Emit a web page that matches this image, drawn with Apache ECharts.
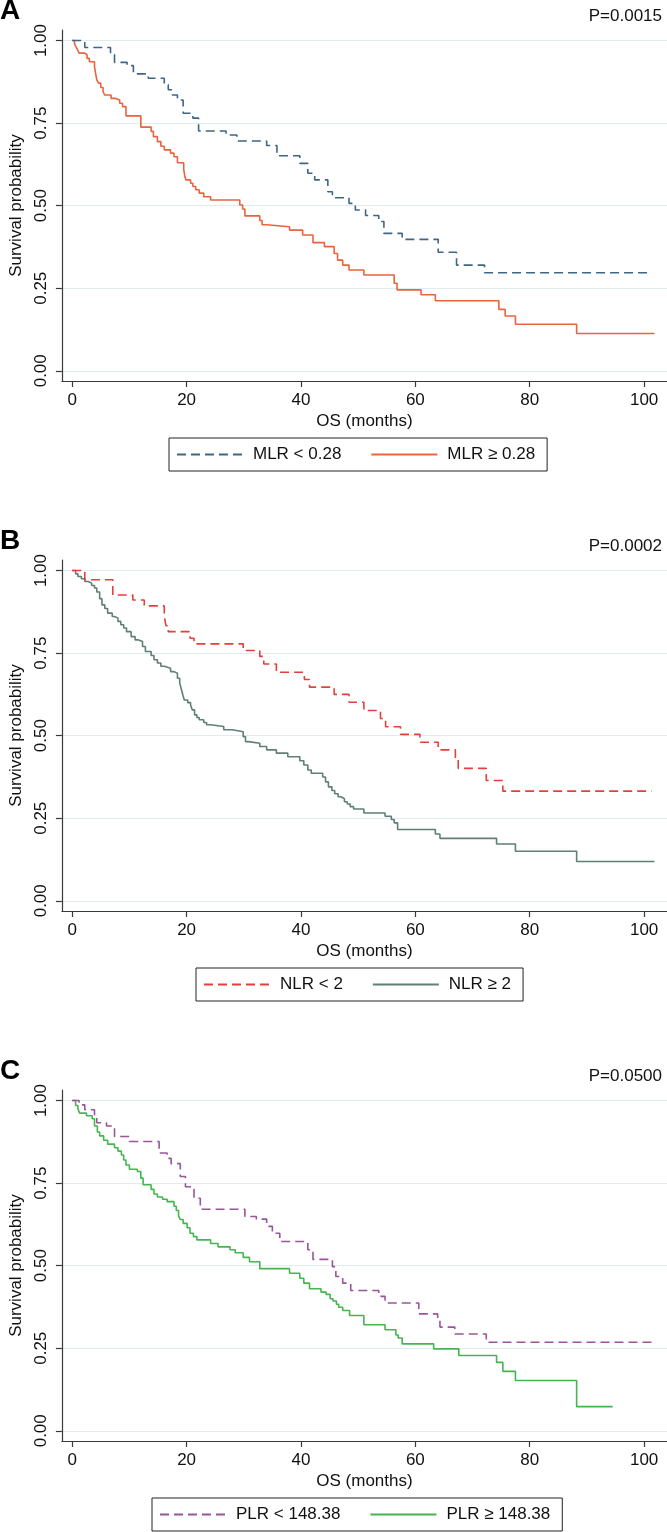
<!DOCTYPE html>
<html><head><meta charset="utf-8">
<script src="https://cdn.jsdelivr.net/npm/echarts@6/dist/echarts.min.js"></script>
<style>html,body{margin:0;padding:0;background:#fff}#c{width:667px;height:1532px}</style>
</head><body><div id="c"></div><script>
// Tick labels
const xTicks = [0, 20, 40, 60, 80, 100];
const yTicks = [0, 0.25, 0.5, 0.75, 1];
const panelLetters = ['A', 'B', 'C'];
const pValues = ['P=0.0015', 'P=0.0002', 'P=0.0500'];
const groupNames = [['MLR < 0.28', 'MLR ≥ 0.28'], ['NLR < 2', 'NLR ≥ 2'], ['PLR < 148.38', 'PLR ≥ 148.38']];

// Kaplan-Meier steps: [months, survival probability]
const mlrLow = [[0,1],[2.2,0.979],[6.7,0.957],[7.4,0.934],[9.6,0.924],[10.7,0.899],[13.3,0.886],[16.1,0.866],[16.8,0.851],[17.5,0.835],[18.4,0.820],[19.4,0.780],[21.1,0.765],[22.1,0.726],[26.9,0.714],[28.8,0.696],[34.0,0.682],[35.8,0.651],[39.8,0.628],[41.2,0.598],[42.4,0.578],[44.7,0.542],[45.5,0.524],[48.4,0.507],[49.5,0.487],[51.3,0.470],[53.6,0.452],[54.5,0.416],[57.7,0.398],[64.0,0.359],[67.2,0.320],[72.1,0.297],[101.3,0.297]];
const mlrHigh = [[0,1],[0.4,0.99],[0.7,0.98],[1.0,0.97],[1.2,0.962],[2.2,0.957],[2.6,0.946],[3.0,0.936],[3.9,0.92],[4.1,0.90],[4.3,0.881],[4.6,0.871],[5.0,0.858],[5.4,0.845],[5.7,0.835],[6.8,0.825],[7.5,0.820],[8.3,0.810],[8.8,0.800],[9.4,0.772],[12.0,0.738],[13.8,0.725],[14.2,0.709],[14.9,0.694],[15.5,0.680],[16.1,0.669],[17.2,0.659],[17.8,0.648],[18.4,0.630],[19.5,0.610],[19.7,0.588],[19.9,0.578],[20.7,0.568],[21.1,0.558],[21.6,0.548],[22.2,0.538],[23.0,0.527],[24.2,0.517],[29.3,0.502],[29.8,0.490],[30.2,0.469],[32.8,0.455],[33.2,0.442],[34.0,0.436],[38.0,0.426],[40.3,0.411],[42.1,0.388],[44.1,0.376],[45.8,0.355],[46.4,0.335],[47.3,0.320],[48.4,0.305],[51.0,0.290],[56.3,0.265],[56.8,0.245],[61.0,0.230],[63.5,0.212],[74.6,0.186],[75.7,0.166],[77.5,0.141],[88.2,0.113],[101.8,0.113]];
const nlrLow = [[0,1],[2.2,0.972],[7.1,0.926],[10.6,0.911],[12.6,0.893],[16.1,0.860],[16.4,0.833],[16.8,0.815],[20.6,0.795],[21.3,0.778],[29.9,0.758],[32.8,0.740],[33.5,0.717],[35.7,0.692],[40.6,0.670],[41.5,0.647],[45.8,0.625],[48.4,0.601],[51.0,0.576],[53.9,0.552],[54.8,0.527],[57.4,0.504],[60.8,0.480],[64.0,0.457],[67.0,0.430],[67.5,0.401],[72.4,0.364],[75.3,0.332],[101.3,0.332]];
const nlrHigh = [[0,1],[0.6,0.99],[1.0,0.982],[1.6,0.975],[2.2,0.967],[2.8,0.962],[3.4,0.955],[3.9,0.947],[4.3,0.935],[4.8,0.915],[5.2,0.896],[5.7,0.885],[6.2,0.871],[7.0,0.861],[7.4,0.856],[8.0,0.846],[8.5,0.836],[9.0,0.826],[9.5,0.815],[10.3,0.800],[11.0,0.790],[11.6,0.785],[12.3,0.770],[12.8,0.755],[13.8,0.743],[14.3,0.730],[14.9,0.720],[15.5,0.710],[16.1,0.704],[17.2,0.694],[17.8,0.689],[18.4,0.674],[18.8,0.659],[19.1,0.640],[19.4,0.620],[19.6,0.608],[20.2,0.600],[20.7,0.593],[21.0,0.578],[21.4,0.563],[21.8,0.555],[22.2,0.548],[23.0,0.540],[23.5,0.533],[24.2,0.528],[26.5,0.518],[28.0,0.512],[29.9,0.497],[30.3,0.482],[30.8,0.477],[32.8,0.467],[34.0,0.457],[35.7,0.447],[37.7,0.436],[39.8,0.424],[40.5,0.411],[41.2,0.396],[41.8,0.386],[43.8,0.375],[44.3,0.360],[44.8,0.345],[45.4,0.334],[45.9,0.324],[46.5,0.315],[47.0,0.309],[47.6,0.300],[48.1,0.293],[48.6,0.285],[49.2,0.278],[51.0,0.266],[54.7,0.256],[55.8,0.246],[56.3,0.236],[56.9,0.216],[63.5,0.202],[64.3,0.189],[74.2,0.172],[77.5,0.150],[88.2,0.119],[101.8,0.119]];
const plrLow = [[0,1],[1.2,0.987],[2.2,0.972],[3.9,0.954],[4.3,0.933],[6.0,0.923],[7.4,0.891],[10.0,0.876],[15.2,0.841],[16.6,0.825],[17.3,0.809],[18.9,0.770],[19.8,0.739],[21.3,0.704],[22.4,0.671],[30.2,0.649],[32.2,0.641],[34.0,0.619],[35.0,0.598],[36.3,0.573],[41.2,0.548],[42.1,0.519],[45.5,0.497],[46.1,0.467],[47.3,0.447],[48.7,0.425],[53.6,0.407],[54.7,0.387],[60.6,0.354],[63.9,0.334],[64.3,0.314],[66.9,0.293],[72.4,0.268],[101.8,0.268]];
const plrHigh = [[0,1],[0.6,0.985],[1.0,0.975],[1.3,0.962],[2.5,0.954],[3.5,0.945],[3.9,0.923],[4.4,0.905],[4.8,0.893],[5.5,0.880],[6.2,0.868],[7.4,0.857],[8.0,0.847],[8.6,0.835],[9.0,0.820],[9.4,0.805],[10.0,0.792],[11.4,0.785],[12.0,0.765],[12.4,0.745],[13.8,0.731],[14.3,0.717],[14.9,0.708],[15.8,0.701],[16.6,0.694],[17.8,0.680],[18.2,0.667],[18.6,0.650],[18.9,0.640],[19.4,0.628],[20.1,0.615],[20.6,0.598],[21.2,0.588],[21.8,0.578],[24.2,0.567],[25.5,0.557],[27.6,0.548],[28.5,0.539],[29.9,0.525],[31.0,0.512],[32.8,0.491],[38.0,0.477],[39.8,0.462],[40.5,0.447],[41.5,0.430],[43.5,0.420],[44.4,0.413],[45.1,0.400],[45.6,0.393],[46.2,0.383],[46.6,0.374],[47.3,0.364],[48.5,0.349],[51.0,0.321],[54.7,0.306],[56.6,0.290],[57.0,0.281],[57.7,0.263],[63.2,0.248],[67.6,0.228],[74.2,0.207],[75.3,0.180],[77.5,0.152],[88.2,0.073],[94.5,0.073]];

const curves = [[mlrLow, mlrHigh], [nlrLow, nlrHigh], [plrLow, plrHigh]];
const colors = [['#3d6688', '#e8643f'], ['#e2413b', '#5f7f77'], ['#9a5499', '#45b64f']];
const legendLeft = [169, 196, 152];
const FONT = "'Liberation Sans', Arial, Helvetica, sans-serif";
const offsets = [0, 530, 1060];

const grid = [], xAxis = [], yAxis = [], series = [], legend = [], title = [];
offsets.forEach((off, i) => {
  grid.push({left: 57, width: 610, top: 30 + off, height: 351, containLabel: false});
  xAxis.push({
    type: 'value', gridIndex: i, min: -1.8, max: 104,
    name: 'OS (months)', nameLocation: 'middle', nameGap: 32,
    nameTextStyle: {fontSize: 17, color: '#111', fontFamily: FONT},
    axisLine: {show: true, onZero: false, lineStyle: {color: '#3a3a3a', width: 1.2}},
    axisTick: {show: true, length: 6, customValues: xTicks, lineStyle: {color: '#3a3a3a', width: 1.2}},
    axisLabel: {customValues: xTicks, margin: 11, fontSize: 17, color: '#111', fontFamily: FONT},
    splitLine: {show: false}
  });
  yAxis.push({
    type: 'value', gridIndex: i, min: -0.031, max: 1.032,
    name: 'Survival probability', nameLocation: 'middle', nameGap: 27,
    nameTextStyle: {fontSize: 17, color: '#111', fontFamily: FONT},
    axisLine: {show: true, onZero: false, lineStyle: {color: '#3a3a3a', width: 1.2}},
    axisTick: {show: true, length: 6, customValues: yTicks, lineStyle: {color: '#3a3a3a', width: 1.2}},
    axisLabel: {customValues: yTicks, rotate: 90, margin: 12, fontSize: 17, color: '#111', fontFamily: FONT,
      formatter: v => Number(v).toFixed(2)},
    splitLine: {show: true, lineStyle: {color: '#e1ecef', width: 1.2}}
  });
  curves[i].forEach((d, j) => {
    series.push({
      name: groupNames[i][j], type: 'line', step: 'end', xAxisIndex: i, yAxisIndex: i,
      data: d, symbol: 'none', animation: false, z: j === 0 ? 3 : 2,
      lineStyle: {color: colors[i][j], width: 1.6, type: j === 0 ? [9, 5] : 'solid'},
      itemStyle: {color: colors[i][j]}
    });
  });
  legend.push({
    data: groupNames[i], left: legendLeft[i], top: 438 + off,
    orient: 'horizontal', itemWidth: 66, itemHeight: 14, itemGap: 29,
    padding: [8, 12, 8, 7], borderColor: '#222', borderWidth: 1,
    itemStyle: {color: 'transparent', borderColor: 'transparent', borderWidth: 0, opacity: 0},
    textStyle: {fontSize: 17, color: '#111', fontFamily: FONT, padding: [0, 0, 0, 5]},
    selectedMode: false
  });
  title.push({text: panelLetters[i], left: 0, top: -3 + off, padding: 0,
    textStyle: {fontSize: 28, fontWeight: 'bold', color: '#000', fontFamily: FONT}});
  title.push({text: pValues[i], right: 5, top: 8 + off, padding: 0,
    textStyle: {fontSize: 17, fontWeight: 'normal', color: '#111', fontFamily: FONT}});
});

const chart = echarts.init(document.getElementById('c'));
chart.setOption({backgroundColor: '#fff', animation: false, grid, xAxis, yAxis, series, legend, title});
</script></body></html>
